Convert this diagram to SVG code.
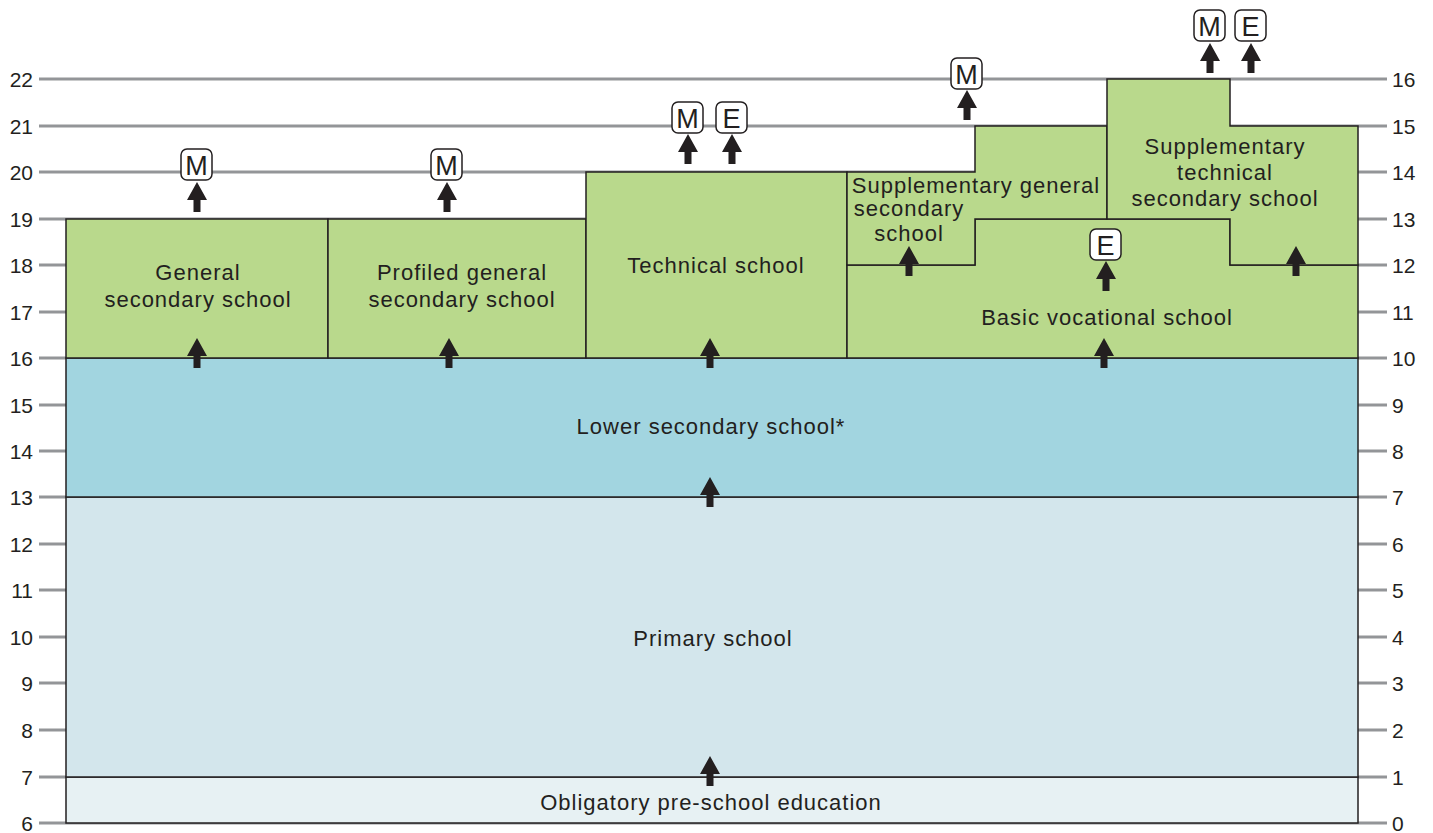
<svg xmlns="http://www.w3.org/2000/svg" xmlns:xlink="http://www.w3.org/1999/xlink" width="1433" height="833" viewBox="0 0 1433 833">
<style>
text{font-family:"Liberation Sans",Arial,sans-serif;fill:#231f20}
.ax{font-size:21px}
.lbl{font-size:22px;letter-spacing:1px;text-anchor:middle}
.grid{stroke:#939598;stroke-width:3}
.box{stroke:#231f20;stroke-width:1.5}
.g{fill:#b9d98c}
.badge rect{fill:#fff;stroke:#231f20;stroke-width:1.5}
.badge text{font-size:27px;text-anchor:middle}
.arr{fill:#231f20}
</style>
<defs>
<path id="arrow" d="M0,0 L10,18 L3.5,18 L3.5,30 L-3.5,30 L-3.5,18 L-10,18 Z"/>
</defs>
<rect width="1433" height="833" fill="#fff"/>
<g id="axis">
<g class="grid">
<line x1="39" y1="79" x2="1387" y2="79"/>
<line x1="39" y1="126" x2="1387" y2="126"/>
<line x1="39" y1="172" x2="1387" y2="172"/>
<line x1="39" y1="219" x2="1387" y2="219"/>
<line x1="39" y1="265" x2="1387" y2="265"/>
<line x1="39" y1="312" x2="1387" y2="312"/>
<line x1="39" y1="358" x2="1387" y2="358"/>
<line x1="39" y1="405" x2="1387" y2="405"/>
<line x1="39" y1="451" x2="1387" y2="451"/>
<line x1="39" y1="497" x2="1387" y2="497"/>
<line x1="39" y1="544" x2="1387" y2="544"/>
<line x1="39" y1="590" x2="1387" y2="590"/>
<line x1="39" y1="637" x2="1387" y2="637"/>
<line x1="39" y1="683" x2="1387" y2="683"/>
<line x1="39" y1="730" x2="1387" y2="730"/>
<line x1="39" y1="777" x2="1387" y2="777"/>
<line x1="39" y1="823" x2="1387" y2="823"/>
</g>
<g class="ax" text-anchor="end">
<text x="33" y="87">22</text>
<text x="33" y="134">21</text>
<text x="33" y="180">20</text>
<text x="33" y="227">19</text>
<text x="33" y="273">18</text>
<text x="33" y="320">17</text>
<text x="33" y="366">16</text>
<text x="33" y="413">15</text>
<text x="33" y="459">14</text>
<text x="33" y="505">13</text>
<text x="33" y="552">12</text>
<text x="33" y="598">11</text>
<text x="33" y="645">10</text>
<text x="33" y="691">9</text>
<text x="33" y="738">8</text>
<text x="33" y="785">7</text>
<text x="33" y="831">6</text>
</g>
<g class="ax">
<text x="1392" y="87">16</text>
<text x="1392" y="134">15</text>
<text x="1392" y="180">14</text>
<text x="1392" y="227">13</text>
<text x="1392" y="273">12</text>
<text x="1392" y="320">11</text>
<text x="1392" y="366">10</text>
<text x="1392" y="413">9</text>
<text x="1392" y="459">8</text>
<text x="1392" y="505">7</text>
<text x="1392" y="552">6</text>
<text x="1392" y="598">5</text>
<text x="1392" y="645">4</text>
<text x="1392" y="691">3</text>
<text x="1392" y="738">2</text>
<text x="1392" y="785">1</text>
<text x="1392" y="831">0</text>
</g>
</g>
<g id="preschool">
<rect class="box" x="66" y="777" width="1292" height="46" fill="#e7f1f3"/>
<text class="lbl" x="711" y="810">Obligatory pre-school education</text>
</g>
<g id="primary">
<rect class="box" x="66" y="497" width="1292" height="280" fill="#d3e6ec"/>
<text class="lbl" x="713" y="646">Primary school</text>
</g>
<g id="lowersecondary">
<rect class="box" x="66" y="358" width="1292" height="139" fill="#a2d5e0"/>
<text class="lbl" x="711" y="434">Lower secondary school*</text>
</g>
<g id="general">
<rect class="box g" x="66" y="219" width="262" height="139"/>
<text class="lbl" x="198" y="280">General</text>
<text class="lbl" x="198" y="307">secondary school</text>
</g>
<g id="profiled">
<rect class="box g" x="328" y="219" width="258" height="139"/>
<text class="lbl" x="462" y="280">Profiled general</text>
<text class="lbl" x="462" y="307">secondary school</text>
</g>
<g id="technical">
<rect class="box g" x="586" y="172" width="261" height="186"/>
<text class="lbl" x="716" y="273">Technical school</text>
</g>
<g id="basicvocational">
<path class="box g" d="M847,265 L975,265 L975,219 L1230,219 L1230,265 L1358,265 L1358,358 L847,358 Z"/>
<text class="lbl" x="1107" y="325">Basic vocational school</text>
</g>
<g id="suppgeneral">
<path class="box g" d="M847,172 L975,172 L975,126 L1107,126 L1107,219 L975,219 L975,265 L847,265 Z"/>
<text class="lbl" x="976" y="193">Supplementary general</text>
<text class="lbl" x="909" y="216">secondary</text>
<text class="lbl" x="909" y="241">school</text>
</g>
<g id="supptechnical">
<path class="box g" d="M1107,79 L1230,79 L1230,126 L1358,126 L1358,265 L1230,265 L1230,219 L1107,219 Z"/>
<text class="lbl" x="1225" y="154">Supplementary</text>
<text class="lbl" x="1225" y="180">technical</text>
<text class="lbl" x="1225" y="206">secondary school</text>
</g>
<g id="badge-general-M" class="badge"><rect x="181" y="149" width="31" height="31" rx="6"/><text x="196.5" y="175">M</text></g>
<g id="badge-profiled-M" class="badge"><rect x="431" y="149" width="31" height="31" rx="6"/><text x="446.5" y="175">M</text></g>
<g id="badge-technical-M" class="badge"><rect x="672" y="102" width="31" height="31" rx="6"/><text x="687.5" y="128">M</text></g>
<g id="badge-technical-E" class="badge"><rect x="716" y="102" width="31" height="31" rx="6"/><text x="731.5" y="128">E</text></g>
<g id="badge-suppgeneral-M" class="badge"><rect x="951" y="58" width="31" height="31" rx="6"/><text x="966.5" y="84">M</text></g>
<g id="badge-supptech-M" class="badge"><rect x="1194" y="10" width="31" height="31" rx="6"/><text x="1209.5" y="36">M</text></g>
<g id="badge-supptech-E" class="badge"><rect x="1235" y="10" width="31" height="31" rx="6"/><text x="1250.5" y="36">E</text></g>
<g id="badge-vocational-E" class="badge"><rect x="1090" y="229" width="31" height="31" rx="6"/><text x="1105.5" y="255">E</text></g>
<g id="connectors" class="arr">
<use xlink:href="#arrow" x="197" y="182"/>
<use xlink:href="#arrow" x="447" y="182"/>
<use xlink:href="#arrow" x="688" y="134"/>
<use xlink:href="#arrow" x="732" y="134"/>
<use xlink:href="#arrow" x="967" y="90"/>
<use xlink:href="#arrow" x="1210" y="43"/>
<use xlink:href="#arrow" x="1251" y="43"/>
<use xlink:href="#arrow" x="1106" y="261"/>
<use xlink:href="#arrow" x="909" y="246"/>
<use xlink:href="#arrow" x="1296" y="246"/>
<use xlink:href="#arrow" x="197" y="338"/>
<use xlink:href="#arrow" x="449" y="338"/>
<use xlink:href="#arrow" x="710" y="338"/>
<use xlink:href="#arrow" x="1104" y="338"/>
<use xlink:href="#arrow" x="710" y="477"/>
<use xlink:href="#arrow" x="710" y="756"/>
</g>
</svg>
